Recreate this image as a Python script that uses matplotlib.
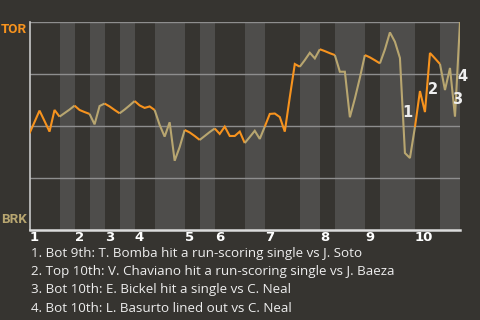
import matplotlib
matplotlib.use("Agg")
import matplotlib.pyplot as plt
import numpy as np

# ---- data ----
# win probability for TOR (away) after each plate appearance
win_prob = [0.465, 0.519, 0.574, 0.524, 0.473, 0.577, 0.545, 0.562, 0.579, 0.598,
            0.577, 0.567, 0.558, 0.508, 0.596, 0.608, 0.594, 0.577, 0.561, 0.579,
            0.599, 0.620, 0.599, 0.587, 0.594, 0.577, 0.505, 0.449, 0.518, 0.333,
            0.399, 0.481, 0.469, 0.452, 0.433, 0.452, 0.471, 0.488, 0.462, 0.497,
            0.452, 0.452, 0.473, 0.418, 0.447, 0.477, 0.438, 0.497, 0.558, 0.560,
            0.543, 0.473, 0.639, 0.798, 0.785, 0.817, 0.852, 0.825, 0.869, 0.860,
            0.850, 0.841, 0.761, 0.761, 0.542, 0.632, 0.732, 0.841, 0.830, 0.816,
            0.801, 0.868, 0.950, 0.905, 0.827, 0.370, 0.346, 0.495, 0.668, 0.567,
            0.851, 0.825, 0.798, 0.673, 0.779, 0.545, 1.000]
# plate-appearance index where each half inning starts (last = game end)
half_inning_starts = [0, 6, 9, 12, 15, 18, 21, 25, 31, 34, 37, 43, 47, 54, 58,
                      61, 67, 70, 77, 82, 86]
inning_labels = ["1", "2", "3", "4", "5", "6", "7", "8", "9", "10"]
away_team = "TOR"
home_team = "BRK"
# key events: index of the plate appearance that ends each event
key_event_idx = [75, 80, 85, 86]
key_event_text = [
    "1. Bot 9th: T. Bomba hit a run-scoring single vs J. Soto",
    "2. Top 10th: V. Chaviano hit a run-scoring single vs J. Baeza",
    "3. Bot 10th: E. Bickel hit a single vs C. Neal",
    "4. Bot 10th: L. Basurto lined out vs C. Neal",
]

# ---- style ----
BG = "#363430"
BAND = "#4e4d4b"
ORANGE = "#f7931e"
TAN = "#b8a670"
GRID = "#8e8e8e"
TEXT = "#eeeeee"

fig = plt.figure(figsize=(4.8, 3.2), dpi=100, facecolor=BG)
ax = fig.add_axes([29.5 / 480, 1 - 230 / 320, (460 - 29.5) / 480, 208 / 320])
ax.set_facecolor(BG)

x = np.arange(len(win_prob))
n_end = half_inning_starts[-1]
ax.set_xlim(0, n_end)
ax.set_ylim(0, 1)

# bottom halves shaded
for i in range(len(half_inning_starts) - 1):
    a, b = half_inning_starts[i], half_inning_starts[i + 1]
    if i % 2 == 1:
        ax.axvspan(a, b, color=BAND, lw=0, zorder=0)

for yv in [0.25, 0.5, 0.75, 1.0]:
    ax.axhline(yv, color=GRID, lw=1.0, zorder=1)

# line segments coloured by batting team
for i in range(len(half_inning_starts) - 1):
    a, b = half_inning_starts[i], half_inning_starts[i + 1]
    col = ORANGE if i % 2 == 0 else TAN
    ax.plot(x[a:b + 1], win_prob[a:b + 1], color=col, lw=1.5,
            solid_joinstyle="miter", solid_capstyle="butt", zorder=3)

# key-event markers
for j, idx in enumerate(key_event_idx):
    xm = idx - 0.5
    ym = (win_prob[idx - 1] + win_prob[idx]) / 2
    ax.annotate(str(j + 1), (xm, ym), xytext=(5, -7), textcoords="offset pixels",
                ha="center", va="center", color=TEXT, fontsize=10.5,
                fontweight="bold", annotation_clip=False, zorder=5)

for s in ["top", "right"]:
    ax.spines[s].set_visible(False)
ax.spines["left"].set_color("#c8c8c8")
ax.spines["left"].set_linewidth(1.2)
ax.spines["bottom"].set_color("#dcdcdc")
ax.spines["bottom"].set_linewidth(1.8)

ax.set_yticks([])
ax.set_xticks(half_inning_starts[0:-1:2])
ax.set_xticklabels(inning_labels, ha="left", color="white", fontsize=9.5,
                   fontweight="bold")
ax.tick_params(axis="x", length=0, pad=1)

ax.text(-0.007, 0.995, away_team, transform=ax.transAxes, ha="right", va="top",
        color=ORANGE, fontsize=9.6, fontweight="bold", family="Roboto")
ax.text(-0.007, 0.02, home_team, transform=ax.transAxes, ha="right", va="bottom",
        color=TAN, fontsize=9.6, fontweight="bold", family="Roboto")

for j, t in enumerate(key_event_text):
    fig.text(31 / 480, 1 - (254 + 18 * j) / 320, t, ha="left", va="center",
             color=TEXT, fontsize=9.6, family="Open Sans")

fig.savefig("out.png", dpi=100, facecolor=BG)
